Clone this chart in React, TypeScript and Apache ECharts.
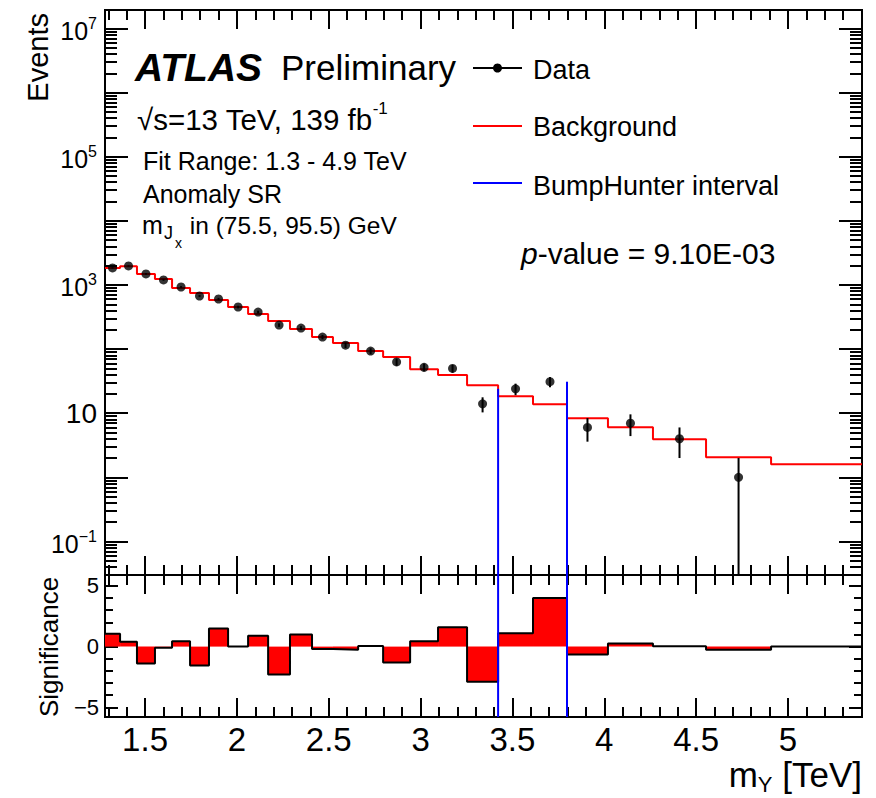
import React, { useEffect, useRef } from 'react';
import * as echarts from 'echarts';

// ---- data ----
const binEdges = [1.282, 1.364, 1.456, 1.554, 1.647, 1.745, 1.848, 1.952, 2.061, 2.17, 2.289, 2.409, 2.523, 2.66, 2.796, 2.943, 3.095, 3.253, 3.422, 3.612, 3.797, 4.02, 4.265, 4.554, 4.908, 5.403];
const dataEvents = [1845, 1980, 1485, 1197, 930, 673, 604, 453, 378, 237, 213, 154, 115, 93, 63, 52, 50, 14, 24, 31, 6, 7, 4, 1];
const dataErrors = [43, 44, 39, 35, 30, 26, 25, 21, 19, 15, 15, 12, 11, 10, 8, 7.2, 7.1, 3.7, 4.9, 5.6, 2.4, 2.6, 2, 1];
const background = [1845, 1950, 1485, 1241, 898, 750, 583, 453, 352, 274, 205, 154, 124, 93, 75, 48.7, 39.3, 27.4, 18.4, 13.8, 8.35, 6.04, 3.93, 2.05, 1.6];
const significance = [1.05, 0.4, -1.4, -0.1, 0.45, -1.55, 1.5, 0.0, 0.9, -2.3, 1.0, -0.2, -0.25, 0.05, -1.3, 0.45, 1.6, -2.9, 1.1, 4.0, -0.65, 0.25, 0.02, -0.25, 0.0];
const bumpInterval = [3.422, 3.797];
const bumpLineTops = [24, 31];
const xMajorTicks = [1.5, 2, 2.5, 3, 3.5, 4, 4.5, 5];
const yLogLabelTicks = [0.1, 10, 1e3, 1e5, 1e7];
const sigLabelTicks = [-5, 0, 5];

// ---- axis ranges ----
const xMin = 1.282, xMax = 5.403;
const yLogMin = 0.03, yLogMax = 1.94e7;
const sigMin = -5.8, sigMax = 5.9;

const FONT = '"Liberation Sans", Arial, Helvetica, sans-serif';
const RED = '#ff0000';
const BLUE = '#0000ff';

const xMinorTicks: number[] = [];
for (let i = 13; i <= 54; i++) xMinorTicks.push(i / 10);
const yDecadeTicks: number[] = [];
const yLogMinorTicks: number[] = [];
for (let n = -2; n <= 7; n++) {
  const d = Math.pow(10, n);
  if (d >= yLogMin && d <= yLogMax) yDecadeTicks.push(Number(d.toPrecision(6)));
  for (let k = 2; k <= 9; k++) {
    const v = Number((k * d).toPrecision(6));
    if (v >= yLogMin && v <= yLogMax) yLogMinorTicks.push(v);
  }
}
const sigMinorTicks: number[] = [];
for (let i = -5; i <= 5; i++) sigMinorTicks.push(i);

const binCenters = dataEvents.map((_, i) => (binEdges[i] + binEdges[i + 1]) / 2);
const bkgSteps = background.map((v, i) => [binEdges[i], v]).concat([[binEdges[background.length], background[background.length - 1]]]);
const sigSteps = significance.map((v, i) => [binEdges[i], v]).concat([[binEdges[significance.length], significance[significance.length - 1]]]);

const tickStyle = { color: '#000', width: 2 };

function xAxisDef(gridIndex: number, position: string, values: number[], length: number, label?: any) {
  return {
    type: 'value', gridIndex, position, min: xMin, max: xMax,
    axisLine: { show: false, onZero: false },
    splitLine: { show: false },
    axisTick: { show: true, inside: true, length, customValues: values, lineStyle: tickStyle },
    axisLabel: label ?? { show: false },
  };
}
function yLogDef(position: string, values: number[], length: number, label?: any) {
  return {
    type: 'log', logBase: 10, gridIndex: 0, position, min: yLogMin, max: yLogMax,
    axisLine: { show: false, onZero: false },
    splitLine: { show: false },
    axisTick: { show: true, inside: true, length, customValues: values, lineStyle: tickStyle },
    axisLabel: label ?? { show: false },
  };
}
function ySigDef(position: string, values: number[], length: number, label?: any) {
  return {
    type: 'value', gridIndex: 1, position, min: sigMin, max: sigMax,
    axisLine: { show: false, onZero: false },
    splitLine: { show: false },
    axisTick: { show: true, inside: true, length, customValues: values, lineStyle: tickStyle },
    axisLabel: label ?? { show: false },
  };
}

const vline = (api: any, x: number, y0: number, y1: number, color: string) => {
  const p0 = api.coord([x, y0]);
  const p1 = api.coord([x, y1]);
  return { type: 'line', shape: { x1: p0[0], y1: p0[1], x2: p1[0], y2: p1[1] }, style: { stroke: color, lineWidth: 2 } };
};

const option: any = {
  animation: false,
  backgroundColor: '#fff',
  textStyle: { fontFamily: FONT },
  grid: [
    { left: 105, top: 10, width: 757, height: 565, show: true, borderColor: '#000', borderWidth: 2, backgroundColor: 'transparent' },
    { left: 105, top: 575, width: 757, height: 142, show: true, borderColor: '#000', borderWidth: 2, backgroundColor: 'transparent' },
  ],
  xAxis: [
    xAxisDef(0, 'bottom', xMajorTicks, 19),
    xAxisDef(0, 'bottom', xMinorTicks, 10),
    xAxisDef(0, 'top', xMajorTicks, 19),
    xAxisDef(0, 'top', xMinorTicks, 10),
    xAxisDef(1, 'bottom', xMajorTicks, 19, {
      show: true, customValues: xMajorTicks, color: '#000', fontSize: 33, fontFamily: FONT, margin: 6,
      formatter: (v: number) => String(v),
    }),
    xAxisDef(1, 'bottom', xMinorTicks, 10),
    xAxisDef(1, 'top', xMajorTicks, 19),
    xAxisDef(1, 'top', xMinorTicks, 10),
  ],
  yAxis: [
    yLogDef('left', yDecadeTicks, 23, {
      show: true, customValues: yLogLabelTicks, margin: 8, color: '#000',
      formatter: (v: number) => {
        const e = Math.round(Math.log10(v));
        if (e === 1) return '{p|10}';
        return `{b|10}{e|${e < 0 ? '\u2212' + -e : e}}`;
      },
      rich: {
        p: { fontSize: 28, fontFamily: FONT, color: '#000', lineHeight: 34 },
        b: { fontSize: 25, fontFamily: FONT, color: '#000', lineHeight: 30, padding: [6, 0, 0, 0], verticalAlign: 'bottom' },
        e: { fontSize: 16, fontFamily: FONT, color: '#000', lineHeight: 16, padding: [2, 0, 0, 0], verticalAlign: 'top' },
      },
    }),
    yLogDef('left', yLogMinorTicks, 12),
    yLogDef('right', yDecadeTicks, 23),
    yLogDef('right', yLogMinorTicks, 12),
    ySigDef('left', sigLabelTicks, 13, {
      show: true, customValues: sigLabelTicks, margin: 6, color: '#000', fontSize: 22, fontFamily: FONT,
      formatter: (v: number) => (v < 0 ? '\u2212' + -v : String(v)),
    }),
    ySigDef('left', sigMinorTicks, 8),
    ySigDef('right', sigLabelTicks, 13),
    ySigDef('right', sigMinorTicks, 8),
  ],
  series: [
    {
      name: 'Background', type: 'line', xAxisIndex: 0, yAxisIndex: 0, step: 'end',
      data: bkgSteps, symbol: 'none', lineStyle: { color: RED, width: 2 }, z: 2, silent: true,
    },
    {
      name: 'Data errors', type: 'custom', xAxisIndex: 0, yAxisIndex: 0, z: 3, silent: true,
      data: dataEvents.map((v, i) => [binCenters[i], v, dataErrors[i]]),
      renderItem: (_p: any, api: any) => {
        const x = api.value(0), y = api.value(1), e = api.value(2);
        return vline(api, x, Math.max(y - e, yLogMin), y + e, '#000');
      },
    },
    {
      name: 'Data', type: 'scatter', xAxisIndex: 0, yAxisIndex: 0, z: 4, silent: true,
      data: dataEvents.map((v, i) => [binCenters[i], v]),
      symbol: 'circle', symbolSize: 9, itemStyle: { color: '#000' },
    },
    {
      name: 'BumpHunter interval', type: 'custom', xAxisIndex: 0, yAxisIndex: 0, z: 5, silent: true,
      data: bumpInterval.map((x, i) => [x, bumpLineTops[i]]),
      renderItem: (_p: any, api: any) => vline(api, api.value(0), yLogMin, api.value(1), BLUE),
    },
    {
      name: 'Significance', type: 'custom', xAxisIndex: 4, yAxisIndex: 4, z: 2, silent: true,
      data: significance.map((v, i) => [binEdges[i], binEdges[i + 1], v]),
      renderItem: (_p: any, api: any) => {
        const a = api.coord([api.value(0), 0]);
        const b = api.coord([api.value(1), api.value(2)]);
        return {
          type: 'rect',
          shape: { x: a[0], y: Math.min(a[1], b[1]), width: b[0] - a[0], height: Math.abs(b[1] - a[1]) },
          style: { fill: RED },
        };
      },
    },
    {
      name: 'Significance outline', type: 'line', xAxisIndex: 4, yAxisIndex: 4, step: 'end',
      data: sigSteps, symbol: 'none', lineStyle: { color: '#000', width: 2 }, z: 3, silent: true,
    },
    {
      name: 'BumpHunter interval (ratio)', type: 'custom', xAxisIndex: 4, yAxisIndex: 4, z: 5, silent: true,
      data: bumpInterval.map((x) => [x]),
      renderItem: (_p: any, api: any) => vline(api, api.value(0), sigMin, sigMax, BLUE),
    },
  ],
  graphic: {
    elements: [
      { type: 'text', x: 38, y: 13, rotation: Math.PI / 2, style: { text: 'Events', font: `29px ${FONT}`, fill: '#000', align: 'right', verticalAlign: 'middle' } },
      { type: 'text', x: 49, y: 647, rotation: Math.PI / 2, style: { text: 'Significance', font: `26px ${FONT}`, fill: '#000', align: 'center', verticalAlign: 'middle' } },
      {
        type: 'text', x: 862, y: 776,
        style: {
          text: '{m|m}{s|Y}{m| [TeV]}', align: 'right', verticalAlign: 'middle',
          rich: {
            m: { fontSize: 35, fontFamily: FONT, fill: '#000', lineHeight: 38, verticalAlign: 'top' },
            s: { fontSize: 22, fontFamily: FONT, fill: '#000', lineHeight: 20, verticalAlign: 'bottom' },
          },
        },
      },
      { type: 'text', x: 135, y: 67, style: { text: 'ATLAS', font: `italic bold 39px ${FONT}`, fill: '#000', align: 'left', verticalAlign: 'middle' } },
      { type: 'text', x: 281, y: 67, style: { text: 'Preliminary', font: `35px ${FONT}`, fill: '#000', align: 'left', verticalAlign: 'middle' } },
      {
        type: 'text', x: 137, y: 117,
        style: {
          text: '{a|\u221As=13 TeV, 139 fb}{e|-1}', align: 'left', verticalAlign: 'middle',
          rich: {
            a: { fontSize: 29.5, fontFamily: FONT, fill: '#000', lineHeight: 34, verticalAlign: 'bottom' },
            e: { fontSize: 17, fontFamily: FONT, fill: '#000', lineHeight: 17, verticalAlign: 'top' },
          },
        },
      },
      { type: 'text', x: 143, y: 161, style: { text: 'Fit Range: 1.3 - 4.9 TeV', font: `25px ${FONT}`, fill: '#000', align: 'left', verticalAlign: 'middle' } },
      { type: 'text', x: 143, y: 194, style: { text: 'Anomaly SR', font: `25px ${FONT}`, fill: '#000', align: 'left', verticalAlign: 'middle' } },
      { type: 'text', x: 142, y: 225, style: { text: 'm', font: `25px ${FONT}`, fill: '#000', align: 'left', verticalAlign: 'middle' } },
      { type: 'text', x: 164, y: 233, style: { text: 'J', font: `18px ${FONT}`, fill: '#000', align: 'left', verticalAlign: 'middle' } },
      { type: 'text', x: 175, y: 243, style: { text: 'x', font: `14px ${FONT}`, fill: '#000', align: 'left', verticalAlign: 'middle' } },
      { type: 'text', x: 183, y: 225, style: { text: ' in (75.5, 95.5) GeV', font: `24.5px ${FONT}`, fill: '#000', align: 'left', verticalAlign: 'middle' } },
      {
        type: 'text', x: 521, y: 253,
        style: {
          text: '{i|p}{r|-value = 9.10E-03}', align: 'left', verticalAlign: 'middle',
          rich: {
            i: { fontSize: 30, fontStyle: 'italic', fontFamily: FONT, fill: '#000' },
            r: { fontSize: 30, fontFamily: FONT, fill: '#000' },
          },
        },
      },
      // legend
      { type: 'line', shape: { x1: 473, y1: 68, x2: 522, y2: 68 }, style: { stroke: '#000', lineWidth: 2 } },
      { type: 'circle', shape: { cx: 497.5, cy: 68, r: 4.5 }, style: { fill: '#000' } },
      { type: 'text', x: 533, y: 70, style: { text: 'Data', font: `27px ${FONT}`, fill: '#000', align: 'left', verticalAlign: 'middle' } },
      { type: 'line', shape: { x1: 473, y1: 126, x2: 522, y2: 126 }, style: { stroke: RED, lineWidth: 2 } },
      { type: 'text', x: 533, y: 127, style: { text: 'Background', font: `27px ${FONT}`, fill: '#000', align: 'left', verticalAlign: 'middle' } },
      { type: 'line', shape: { x1: 473, y1: 183, x2: 522, y2: 183 }, style: { stroke: BLUE, lineWidth: 2 } },
      { type: 'text', x: 533, y: 186, style: { text: 'BumpHunter interval', font: `27px ${FONT}`, fill: '#000', align: 'left', verticalAlign: 'middle' } },
    ],
  },
};

export default function App() {
  const ref = useRef<HTMLDivElement>(null);
  useEffect(() => {
    const chart = echarts.init(ref.current!, undefined, { renderer: 'svg' });
    chart.setOption(option);
    return () => chart.dispose();
  }, []);
  return <div ref={ref} style={{ position: 'absolute', left: 0, top: 0, width: 876, height: 798, background: '#fff' }} />;
}
